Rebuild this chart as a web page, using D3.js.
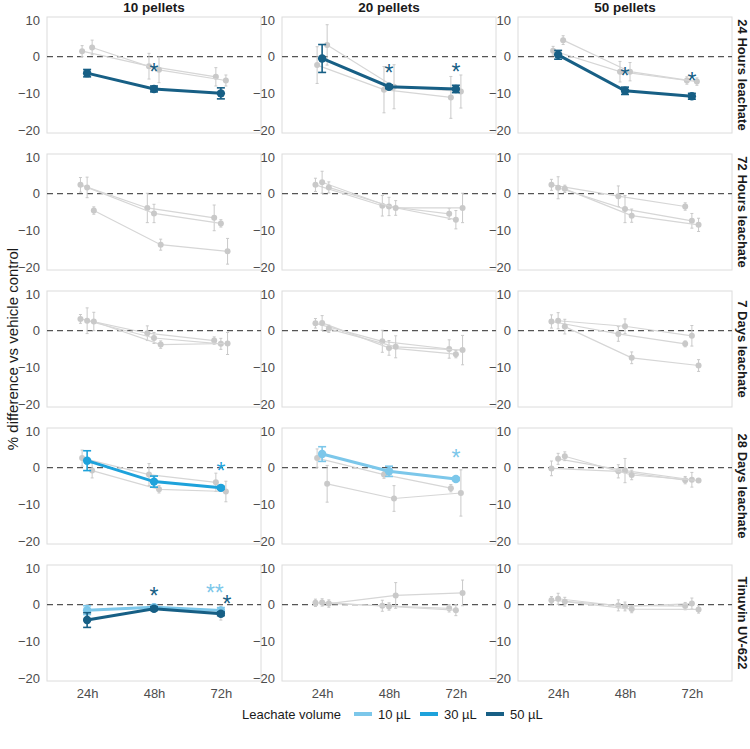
<!DOCTYPE html>
<html>
<head>
<meta charset="utf-8">
<script src="https://cdn.jsdelivr.net/npm/d3@7"></script>
<style>
  body { margin: 0; background: #fff; }
  text { font-family: "Liberation Sans", Arial, sans-serif; }
</style>
</head>
<body>
<div id="chart"></div>
<script>
// facets
const rowLabels = ["24 Hours leachate", "72 Hours leachate", "7 Days leachate", "28 Days leachate", "Tinuvin UV-622"];
const colLabels = ["10 pellets", "20 pellets", "50 pellets"];
const times = ["24h", "48h", "72h"];
const volumes = ["10 µL", "30 µL", "50 µL"];
const volColors = ["#7cc7ea", "#1ea2db", "#175f85"];
const yTicks = [-20, -10, 0, 10];

// means: [row][pellet column][volume][time]
const means = [
  [ [[1.5, -2.6, -5.5], [2.5, -3.6, -6.5], [-4.5, -8.8, -10.0]],
    [[-2.3, -9.0, -11.1], [3.2, -8.2, -9.5], [-0.5, -8.2, -8.8]],
    [[1.6, -4.1, -6.5], [4.5, -4.1, -6.8], [0.5, -9.3, -10.8]] ],
  [ [[2.4, -3.9, -6.6], [1.7, -5.4, -8.1], [-4.6, -13.9, -15.7]],
    [[2.4, -3.3, -5.5], [3.1, -3.5, -7.1], [1.7, -3.9, -3.9]],
    [[2.4, -0.7, -3.5], [1.6, -4.2, -7.4], [1.3, -6.0, -8.5]] ],
  [ [[3.2, -0.7, -2.7], [2.7, -2.0, -3.6], [2.5, -3.8, -3.5]],
    [[2.0, -2.9, -5.0], [2.1, -4.7, -6.4], [0.5, -4.4, -5.3]],
    [[2.5, -0.9, -3.6], [2.7, 1.2, -1.4], [1.1, -7.4, -9.5]] ],
  [ [[2.6, -1.9, -4.0], [1.9, -3.8, -5.5], [-0.8, -5.9, -6.5]],
    [[3.7, -1.0, -3.1], [2.6, -1.9, -5.6], [-4.4, -8.4, -6.9]],
    [[-0.2, -1.0, -3.4], [2.4, -0.8, -3.3], [3.1, -2.0, -3.5]] ],
  [ [[-1.5, -0.7, -1.6], [-1.5, -0.8, -2.2], [-4.2, -1.1, -2.5]],
    [[0.5, -0.3, -1.0], [0.6, -0.5, -1.5], [0.3, 2.5, 3.2]],
    [[1.2, -0.2, -0.4], [1.6, -0.5, 0.3], [0.8, -1.2, -1.3]] ]
];

// standard errors, same layout
const errors = [
  [ [[1.5, 3.5, 2.5], [2.0, 3.5, 1.5], [1.0, 0.8, 1.5]],
    [[5.0, 6.3, 5.7], [5.5, 6.0, 4.5], [3.8, 0.5, 1.0]],
    [[1.2, 2.8, 1.0], [1.2, 2.5, 1.0], [1.2, 1.0, 0.8]] ],
  [ [[2.0, 4.0, 3.5], [2.8, 2.5, 1.0], [1.0, 1.5, 3.5]],
    [[1.8, 2.8, 1.5], [3.0, 2.5, 2.5], [1.5, 2.0, 4.0]],
    [[1.5, 2.8, 1.0], [3.0, 3.7, 2.0], [1.0, 1.8, 1.8]] ],
  [ [[1.2, 2.0, 1.0], [3.5, 1.5, 1.5], [2.5, 1.0, 3.0]],
    [[1.3, 3.0, 2.5], [2.0, 2.0, 1.0], [1.0, 3.0, 4.0]],
    [[1.8, 2.0, 0.8], [2.2, 2.0, 2.8], [2.0, 1.6, 1.6]] ],
  [ [[2.2, 3.0, 2.5], [2.7, 1.5, 0.4], [2.0, 1.0, 2.8]],
    [[2.0, 1.4, 0.4], [2.5, 1.0, 1.0], [5.0, 3.5, 6.3]],
    [[2.0, 1.8, 1.0], [1.5, 3.3, 2.0], [1.2, 1.3, 0.5]] ],
  [ [[1.2, 0.5, 0.8], [1.5, 1.0, 2.0], [2.0, 0.5, 0.5]],
    [[1.0, 1.5, 1.0], [1.0, 1.0, 1.5], [1.0, 3.5, 3.5]],
    [[1.0, 1.5, 1.0], [1.5, 1.2, 1.5], [1.2, 1.0, 1.0]] ]
];

// highlighted (significant) series: [row, col, volume index]
const highlights = [[0, 0, 2], [0, 1, 2], [0, 2, 2], [3, 0, 1], [3, 1, 0], [4, 0, 0], [4, 0, 2]];

// asterisks: [row, col, time index, volume index, label, y value, x shift]
const stars = [
  [0, 0, 1, 2, "*", -2.9, 0], [0, 1, 1, 2, "*", -3.2, 0], [0, 1, 2, 2, "*", -2.9, 0],
  [0, 2, 1, 2, "*", -3.8, 0], [0, 2, 2, 2, "*", -5.2, 0],
  [3, 0, 2, 1, "*", 0.5, 0], [3, 1, 2, 0, "*", 3.9, 0],
  [4, 0, 1, 2, "*", 3.8, 0], [4, 0, 2, 0, "**", 4.5, -6], [4, 0, 2, 2, "*", 1.5, 6]
];

const width = 750, height = 749;
const panelW = 214, panelH = 116;
const colLeft = [47, 282, 518];
const rowTop = [17, 154, 291, 428, 565];

const svg = d3.select("#chart").append("svg")
  .attr("width", width).attr("height", height)
  .attr("viewBox", [0, 0, width, height]);

const x = d3.scalePoint().domain(times).range([0, panelW]).padding(0.6);
const y = d3.scaleLinear().domain([-20.8, 10.8]).range([panelH, 0]);
const dodgeW = x.step() * 0.3;

const isHi = (r, c, v) => highlights.some(h => h[0] === r && h[1] === c && h[2] === v);

rowLabels.forEach((rl, r) => {
  colLabels.forEach((cl, c) => {
    const g = svg.append("g").attr("transform", `translate(${colLeft[c]},${rowTop[r]})`);

    g.append("rect")
      .attr("width", panelW).attr("height", panelH)
      .attr("fill", "none").attr("stroke", "#dcdcdc").attr("stroke-width", 1);

    g.append("line")
      .attr("x1", 0).attr("x2", panelW)
      .attr("y1", y(0)).attr("y2", y(0))
      .attr("stroke", "#555").attr("stroke-width", 1.4)
      .attr("stroke-dasharray", "6,4");

    // gray series are dodged among themselves, highlighted ones sit on the tick
    const grays = [0, 1, 2].filter(v => !isHi(r, c, v));
    const his = [0, 1, 2].filter(v => isHi(r, c, v));
    const offset = v => {
      const i = grays.indexOf(v);
      if (i < 0) return 0;
      const n = grays.length;
      return (i - (n - 1) / 2) * dodgeW / n;
    };

    const line = d3.line().x(d => d[0]).y(d => y(d[1]));

    const drawSeries = (v, hi) => {
      const pts = times.map((t, i) => [x(t) + offset(v), means[r][c][v][i], errors[r][c][v][i]]);
      const col = hi ? volColors[v] : "#c9c9c9";
      const sg = g.append("g");
      sg.append("path")
        .attr("d", line(pts))
        .attr("fill", "none")
        .attr("stroke", hi ? col : "#d6d6d6")
        .attr("stroke-width", hi ? 3 : 1.2);
      const cap = hi ? 4 : 1.5;
      pts.forEach(p => {
        sg.append("line")
          .attr("x1", p[0]).attr("x2", p[0])
          .attr("y1", y(p[1] - p[2])).attr("y2", y(p[1] + p[2]))
          .attr("stroke", col).attr("stroke-width", hi ? 1.6 : 1);
        [p[1] - p[2], p[1] + p[2]].forEach(e => {
          sg.append("line")
            .attr("x1", p[0] - cap).attr("x2", p[0] + cap)
            .attr("y1", y(e)).attr("y2", y(e))
            .attr("stroke", col).attr("stroke-width", hi ? 1.6 : 1);
        });
      });
      sg.selectAll("circle").data(pts).join("circle")
        .attr("cx", d => d[0]).attr("cy", d => y(d[1]))
        .attr("r", hi ? 4.2 : 3)
        .attr("fill", col);
    };

    grays.forEach(v => drawSeries(v, false));
    his.forEach(v => drawSeries(v, true));

    // y axis
    g.append("g")
      .call(d3.axisLeft(y).tickValues(yTicks).tickSize(0).tickPadding(7))
      .call(a => a.select(".domain").remove())
      .selectAll("text")
      .attr("font-size", 13).attr("fill", "#4d4d4d")
      .style("font-family", "Liberation Sans, Arial, sans-serif");

    // x axis on bottom row
    if (r === rowLabels.length - 1) {
      g.append("g")
        .attr("transform", `translate(0,${panelH})`)
        .call(d3.axisBottom(x).tickSize(0).tickPadding(8))
        .call(a => a.select(".domain").remove())
        .selectAll("text")
        .attr("font-size", 13).attr("fill", "#4d4d4d")
        .style("font-family", "Liberation Sans, Arial, sans-serif");
    }

    // stars
    stars.filter(s => s[0] === r && s[1] === c).forEach(s => {
      g.append("text")
        .attr("x", x(times[s[2]]) + s[6])
        .attr("y", y(s[5]) + 13)
        .attr("text-anchor", "middle")
        .attr("font-size", 23)
        .attr("fill", volColors[s[3]])
        .text(s[4]);
    });

    if (r === 0) {
      svg.append("text")
        .attr("x", colLeft[c] + panelW / 2).attr("y", 12)
        .attr("text-anchor", "middle")
        .attr("font-size", 13.5).attr("font-weight", "bold")
        .attr("fill", "#1a1a1a")
        .text(cl);
    }
  });

  svg.append("text")
    .attr("transform", `translate(${742},${rowTop[r] + panelH / 2}) rotate(90)`)
    .attr("text-anchor", "middle")
    .attr("dominant-baseline", "central")
    .attr("font-size", 13).attr("font-weight", "bold")
    .attr("fill", "#1a1a1a")
    .text(rl);
});

// y title
svg.append("text")
  .attr("transform", `translate(12,${(rowTop[0] + rowTop[4] + panelH) / 2}) rotate(-90)`)
  .attr("text-anchor", "middle")
  .attr("dominant-baseline", "central")
  .attr("font-size", 15).attr("fill", "#1a1a1a")
  .text("% difference vs vehicle control");

// legend
const legend = svg.append("g").attr("transform", "translate(242,714)");
legend.append("text")
  .attr("x", 0).attr("y", 0)
  .attr("dominant-baseline", "central")
  .attr("font-size", 13).attr("fill", "#1a1a1a")
  .text("Leachate volume");
const keyX = [112, 178, 244];
volumes.forEach((v, i) => {
  legend.append("line")
    .attr("x1", keyX[i]).attr("x2", keyX[i] + 18)
    .attr("y1", 0).attr("y2", 0)
    .attr("stroke", volColors[i]).attr("stroke-width", 4);
  legend.append("text")
    .attr("x", keyX[i] + 24).attr("y", 0)
    .attr("dominant-baseline", "central")
    .attr("font-size", 13).attr("fill", "#1a1a1a")
    .text(v);
});
</script>
</body>
</html>
